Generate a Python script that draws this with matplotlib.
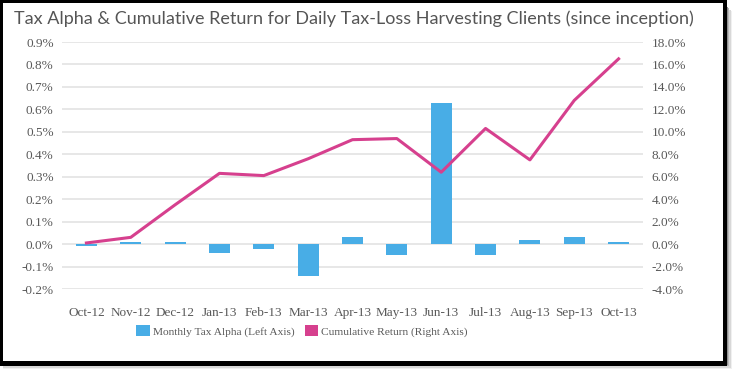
import matplotlib.pyplot as plt
from matplotlib.patches import Rectangle, Patch
from matplotlib.ticker import FuncFormatter

months = ["Oct-12", "Nov-12", "Dec-12", "Jan-13", "Feb-13", "Mar-13", "Apr-13",
          "May-13", "Jun-13", "Jul-13", "Aug-13", "Sep-13", "Oct-13"]
tax_alpha = [-0.01, 0.01, 0.01, -0.04, -0.02, -0.14, 0.03, -0.05, 0.63, -0.05, 0.02, 0.03, 0.01]
cum_return = [0.1, 0.6, 3.5, 6.3, 6.1, 7.6, 9.3, 9.4, 6.4, 10.3, 7.5, 12.8, 16.5]

BAR_COLOR = "#48ADE6"
LINE_COLOR = "#D6408E"
TEXT_COLOR = "#595959"
GRID_COLOR = "#E3E3E3"

fig = plt.figure(figsize=(7.38, 3.75), dpi=100)
fig.patch.set_facecolor("white")

# frame + drop shadow
W, H = 738, 375
for i, g in enumerate(["#f0f0f0", "#d8d8d8", "#b8b8b8", "#909090", "#606060"]):
    off = 8 - i * 1.4
    fig.patches.append(Rectangle((3 / W, (H - 361 - off) / H), (724 + off - 3) / W, (358) / H,
                                 transform=fig.transFigure, facecolor=g, edgecolor="none", zorder=0))
fig.patches.append(Rectangle((0, (H - 366) / H), 727 / W, 366 / H, transform=fig.transFigure,
                             facecolor="black", edgecolor="none", zorder=0.5))
fig.patches.append(Rectangle((3 / W, (H - 361) / H), 720 / W, 358 / H, transform=fig.transFigure,
                             facecolor="white", edgecolor="none", zorder=0.6))

fig.text(14 / W, 1 - 19 / H, "Tax Alpha & Cumulative Return for Daily Tax-Loss Harvesting Clients (since inception)",
         fontsize=13, family="Lato", color="#555555", va="center", ha="left")

ax = fig.add_axes([62 / W, 1 - 289 / H, (643 - 62) / W, (289 - 42) / H])
ax.set_zorder(1)
ax.set_facecolor("none")
x = range(len(months))
ax.bar(x, tax_alpha, width=0.47, color=BAR_COLOR, zorder=2)
ax.set_ylim(-0.2, 0.9)
ax.set_yticks([i / 10 for i in range(-2, 10)])
ax.yaxis.set_major_formatter(FuncFormatter(lambda v, _: f"{v:.1f}%"))
ax.set_xlim(-0.55, len(months) - 0.45)
ax.set_xticks(list(x))
ax.set_xticklabels(months)
ax.grid(axis="y", color=GRID_COLOR, linewidth=1.2, zorder=0)
ax.set_axisbelow(True)

ax2 = ax.twinx()
ax2.set_zorder(2)
ax2.plot(list(x), cum_return, color=LINE_COLOR, linewidth=2.2, zorder=3)
ax2.set_ylim(-4, 18)
ax2.set_yticks(list(range(-4, 20, 2)))
ax2.yaxis.set_major_formatter(FuncFormatter(lambda v, _: f"{v:.1f}%"))

for a in (ax, ax2):
    for s in a.spines.values():
        s.set_visible(False)
    a.tick_params(length=0, labelsize=9.5, labelcolor=TEXT_COLOR, labelfontfamily="Liberation Serif")
ax.tick_params(axis="y", pad=6)
ax2.tick_params(axis="y", pad=6)
ax.tick_params(axis="x", pad=13)

handles = [Patch(facecolor=BAR_COLOR, label="Monthly Tax Alpha (Left Axis)"),
           Patch(facecolor=LINE_COLOR, label="Cumulative Return (Right Axis)")]
leg = fig.legend(handles=handles, loc="center", bbox_to_anchor=(302 / W, 1 - 331 / H), ncol=2, frameon=False,
                 prop={"family": "Liberation Serif", "size": 8.2}, labelcolor=TEXT_COLOR,
                 handlelength=1.2, handleheight=1.1, handletextpad=0.25, columnspacing=0.9)
leg.set_zorder(3)

fig.savefig("out.png", dpi=100)
